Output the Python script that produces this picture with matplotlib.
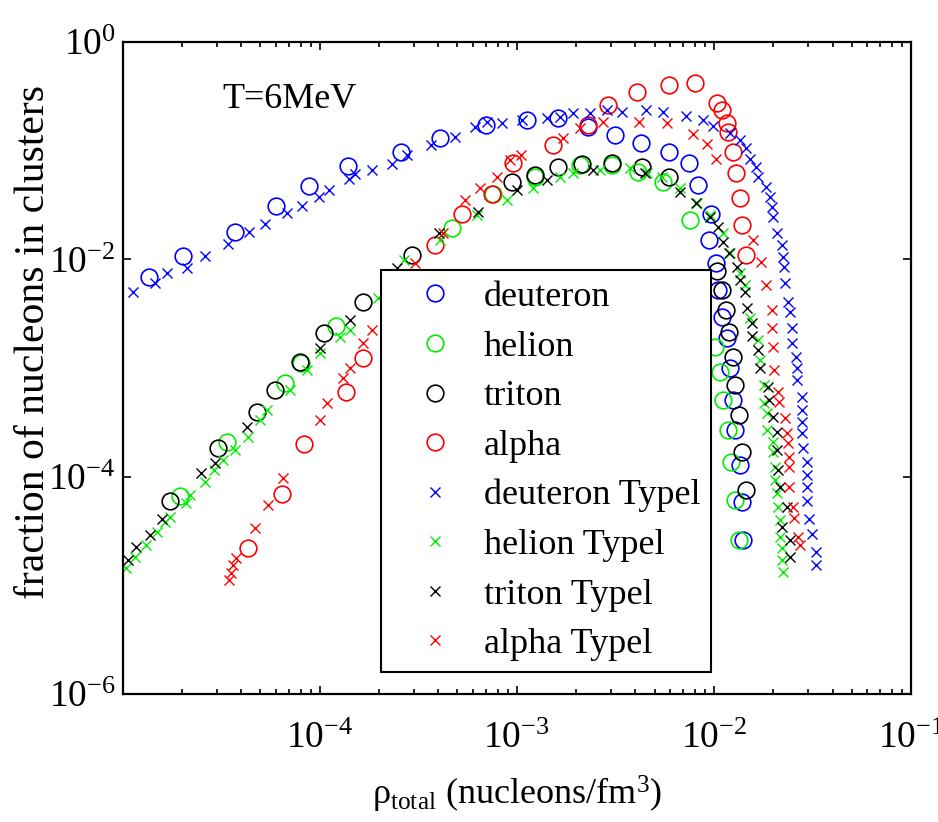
import matplotlib
matplotlib.use("Agg")
import matplotlib.pyplot as plt
from matplotlib.ticker import FixedLocator, NullLocator, LogLocator, FixedFormatter

plt.rcParams['font.family'] = ['Liberation Serif', 'DejaVu Serif']
plt.rcParams['mathtext.fontset'] = 'custom'
plt.rcParams['mathtext.rm'] = 'Liberation Serif'
plt.rcParams['mathtext.it'] = 'Liberation Serif:italic'
plt.rcParams['mathtext.bf'] = 'Liberation Serif:bold'

# ---- data ----
deut_x = [1.36e-5, 2.02e-5, 3.71e-5, 6.0e-5, 8.83e-5, 1.39e-4, 2.58e-4, 4.07e-4, 6.98e-4,
          1.13e-3, 1.62e-3, 2.30e-3, 3.15e-3, 4.27e-3, 5.92e-3, 7.48e-3, 8.30e-3, 9.66e-3,
          9.44e-3, 1.03e-2, 1.05e-2, 1.10e-2, 1.16e-2, 1.21e-2, 1.25e-2, 1.28e-2, 1.36e-2,
          1.39e-2, 1.41e-2]
deut_y = [6.87e-3, 1.07e-2, 1.78e-2, 3.10e-2, 4.73e-2, 7.23e-2, 9.73e-2, 0.131, 0.172,
          0.191, 0.200, 0.165, 0.139, 0.117, 0.0973, 0.0769, 0.0483, 0.0261,
          0.0151, 9.25e-3, 5.23e-3, 2.94e-3, 1.89e-3, 1.0e-3, 5.07e-4, 2.68e-4, 1.28e-4,
          5.85e-5, 2.61e-5]

hel_x = [1.95e-5, 3.39e-5, 6.67e-5, 8.04e-5, 1.21e-4, 2.33e-4, 4.69e-4, 7.57e-4, 1.24e-3,
         2.09e-3, 3.04e-3, 4.12e-3, 5.52e-3, 7.53e-3, 1.01e-2, 1.07e-2, 1.11e-2, 1.18e-2,
         1.22e-2, 1.28e-2, 1.34e-2]
hel_y = [6.64e-5, 2.08e-4, 7.28e-4, 1.11e-3, 2.43e-3, 5.81e-3, 1.94e-2, 3.99e-2, 5.71e-2,
         7.38e-2, 7.38e-2, 6.37e-2, 5.14e-2, 2.30e-2, 1.56e-3, 9.18e-4, 5.07e-4, 2.68e-4,
         1.36e-4, 6.09e-5, 2.61e-5]

trit_x = [1.74e-5, 3.05e-5, 4.81e-5, 5.93e-5, 7.94e-5, 1.05e-4, 1.66e-4, 2.94e-4, 9.46e-4,
          1.24e-3, 1.62e-3, 2.14e-3, 3.04e-3, 4.31e-3, 5.92e-3, 1.04e-2, 1.10e-2, 1.15e-2,
          1.19e-2, 1.25e-2, 1.28e-2, 1.34e-2, 1.39e-2, 1.46e-2]
trit_y = [5.97e-5, 1.84e-4, 3.94e-4, 6.27e-4, 1.14e-3, 2.10e-3, 4.04e-3, 1.10e-2, 5.14e-2,
          5.97e-2, 7.08e-2, 7.53e-2, 7.69e-2, 7.08e-2, 5.71e-2, 7.81e-3, 5.23e-3, 3.42e-3,
          2.14e-3, 1.26e-3, 6.97e-4, 3.69e-4, 1.69e-4, 7.53e-5]

alph_x = [4.32e-5, 6.44e-5, 8.32e-5, 1.36e-4, 1.66e-4, 2.49e-4, 3.85e-4, 5.27e-4, 7.48e-4,
          9.58e-4, 1.53e-3, 2.30e-3, 2.90e-3, 4.07e-3, 5.92e-3, 8.02e-3, 1.04e-2, 1.10e-2,
          1.16e-2, 1.18e-2, 1.25e-2, 1.29e-2, 1.36e-2, 1.39e-2, 1.46e-2]
alph_y = [2.21e-5, 6.92e-5, 2.0e-4, 6.01e-4, 1.24e-3, 4.04e-3, 1.36e-2, 2.61e-2, 3.99e-2,
          7.69e-2, 0.113, 0.172, 0.263, 0.347, 0.402, 0.420, 0.274, 0.237,
          0.179, 0.149, 0.0973, 0.0622, 0.0366, 0.0207, 0.0110]

deutT_x = [1.13e-5, 1.46e-5, 1.68e-5, 2.12e-5, 2.62e-5, 3.43e-5, 4.37e-5, 5.27e-5, 6.82e-5,
           8.13e-5, 9.91e-5, 1.11e-4, 1.41e-4, 1.51e-4, 1.84e-4, 2.33e-4, 2.77e-4, 3.67e-4,
           4.85e-4, 6.14e-4, 7.06e-4, 8.42e-4, 1.06e-3, 1.42e-3, 1.66e-3, 1.93e-3, 2.35e-3,
           2.87e-3, 3.42e-3, 4.53e-3, 5.52e-3, 7.23e-3, 8.81e-3, 9.89e-3, 1.21e-2, 1.36e-2,
           1.46e-2, 1.52e-2, 1.64e-2, 1.67e-2, 1.84e-2, 1.93e-2, 1.97e-2, 2.0e-2, 2.09e-2,
           2.21e-2, 2.24e-2, 2.27e-2, 2.30e-2, 2.38e-2, 2.43e-2, 2.49e-2, 2.49e-2, 2.61e-2,
           2.64e-2, 2.64e-2, 2.80e-2, 2.80e-2, 2.80e-2, 2.80e-2, 2.83e-2, 2.96e-2, 2.96e-2,
           2.96e-2, 2.96e-2, 3.03e-2, 3.15e-2, 3.30e-2, 3.30e-2]
deutT_y = [5.0e-3, 6.05e-3, 7.48e-3, 8.32e-3, 1.07e-2, 1.38e-2, 1.78e-2, 2.11e-2, 2.67e-2,
           3.10e-2, 3.74e-2, 4.35e-2, 5.48e-2, 6.10e-2, 6.64e-2, 7.53e-2, 9.12e-2, 0.113,
           0.134, 0.165, 0.184, 0.179, 0.191, 0.200, 0.204, 0.222, 0.222,
           0.237, 0.227, 0.237, 0.227, 0.208, 0.191, 0.169, 0.145, 0.125,
           0.106, 0.0838, 0.0708, 0.0571, 0.0464, 0.0374, 0.0303, 0.0245, 0.0175,
           0.0136, 0.0105, 8.49e-3, 6.05e-3, 4.04e-3, 3.27e-3, 2.33e-3, 1.70e-3, 1.26e-3,
           1.0e-3, 7.74e-4, 5.41e-4, 4.10e-4, 3.18e-4, 2.52e-4, 1.84e-4, 1.36e-4, 1.04e-4,
           8.04e-5, 5.97e-5, 4.07e-5, 2.96e-5, 2.03e-5, 1.54e-5]

helT_x = [1.04e-5, 1.16e-5, 1.32e-5, 1.50e-5, 1.64e-5, 1.74e-5, 2.10e-5, 2.20e-5, 2.62e-5,
          2.91e-5, 3.23e-5, 3.71e-5, 4.32e-5, 4.98e-5, 5.41e-5, 7.06e-5, 8.63e-5, 1.0e-4,
          1.27e-4, 1.43e-4, 1.98e-4, 2.68e-4, 4.07e-4, 6.28e-4, 8.91e-4, 1.21e-3, 1.66e-3,
          1.93e-3, 2.64e-3, 3.75e-3, 4.58e-3, 5.43e-3, 6.73e-3, 8.20e-3, 9.55e-3, 1.11e-2,
          1.21e-2, 1.36e-2, 1.44e-2, 1.52e-2, 1.67e-2, 1.71e-2, 1.80e-2, 1.80e-2, 1.86e-2,
          1.86e-2, 2.0e-2, 2.0e-2, 2.04e-2, 2.04e-2, 2.09e-2, 2.11e-2, 2.16e-2, 2.16e-2,
          2.21e-2, 2.21e-2, 2.24e-2]
helT_y = [1.44e-5, 1.82e-5, 2.35e-5, 3.10e-5, 3.83e-5, 4.26e-5, 5.72e-5, 6.78e-5, 8.93e-5,
          1.15e-4, 1.42e-4, 1.76e-4, 2.32e-4, 3.32e-4, 4.10e-4, 6.27e-4, 9.57e-4, 1.37e-3,
          1.93e-3, 2.24e-3, 4.40e-3, 9.86e-3, 1.51e-2, 2.56e-2, 3.52e-2, 4.53e-2, 5.71e-2,
          6.22e-2, 6.64e-2, 6.92e-2, 6.22e-2, 5.71e-2, 4.53e-2, 3.30e-2, 2.56e-2, 1.75e-2,
          1.14e-2, 7.48e-3, 5.81e-3, 2.88e-3, 1.81e-3, 1.19e-3, 6.97e-4, 4.77e-4, 3.85e-4,
          2.68e-4, 2.08e-4, 1.69e-4, 1.23e-4, 9.31e-5, 7.08e-5, 5.26e-5, 3.99e-5, 2.79e-5,
          2.21e-5, 1.71e-5, 1.33e-5]

tritT_x = [1.06e-5, 1.17e-5, 1.38e-5, 1.58e-5, 2.50e-5, 2.94e-5, 4.28e-5, 1.0e-4, 1.43e-4,
           2.47e-4, 4.03e-4, 6.35e-4, 1.0e-3, 1.42e-3, 2.44e-3, 4.47e-3, 6.73e-3, 8.11e-3,
           9.55e-3, 1.05e-2, 1.11e-2, 1.19e-2, 1.31e-2, 1.36e-2, 1.44e-2, 1.47e-2, 1.56e-2,
           1.56e-2, 1.67e-2, 1.71e-2, 1.88e-2, 1.90e-2, 2.0e-2, 2.09e-2, 2.09e-2, 2.11e-2,
           2.16e-2, 2.35e-2, 2.21e-2, 2.43e-2, 2.43e-2]
tritT_y = [1.71e-5, 2.25e-5, 2.90e-5, 4.07e-5, 1.08e-4, 1.34e-4, 2.86e-4, 1.53e-3, 2.77e-3,
           8.32e-3, 1.75e-2, 2.72e-2, 4.35e-2, 5.37e-2, 6.64e-2, 6.22e-2, 4.17e-2, 3.30e-2,
           2.45e-2, 1.98e-2, 1.44e-2, 1.14e-2, 8.49e-3, 6.46e-3, 5.0e-3, 3.56e-3, 2.59e-3,
           1.97e-3, 1.47e-3, 1.0e-3, 6.68e-4, 5.07e-4, 3.54e-4, 2.58e-4, 1.76e-4, 1.15e-4,
           8.04e-5, 5.26e-5, 3.44e-5, 2.61e-5, 1.82e-5]

alphT_x = [3.47e-5, 3.55e-5, 3.63e-5, 3.76e-5, 4.70e-5, 5.47e-5, 6.52e-5, 1.0e-4, 1.09e-4,
           1.31e-4, 1.43e-4, 1.66e-4, 1.84e-4, 2.28e-4, 3.05e-4, 4.23e-4, 5.46e-4, 6.50e-4,
           7.94e-4, 9.23e-4, 1.05e-3, 1.71e-3, 2.09e-3, 2.73e-3, 4.17e-3, 5.76e-3, 7.80e-3,
           9.18e-3, 1.03e-2, 1.58e-2, 1.73e-2, 1.84e-2, 1.97e-2, 1.97e-2, 2.0e-2, 2.02e-2,
           2.11e-2, 2.14e-2, 2.30e-2, 2.35e-2, 2.38e-2, 2.40e-2, 2.40e-2, 2.40e-2, 2.52e-2,
           2.55e-2, 2.67e-2, 2.74e-2]
alphT_y = [1.12e-5, 1.30e-5, 1.54e-5, 1.78e-5, 3.37e-5, 5.48e-5, 9.73e-5, 3.32e-4, 4.77e-4,
           8.09e-4, 1.0e-3, 1.70e-3, 2.24e-3, 4.04e-3, 9.25e-3, 1.75e-2, 3.52e-2, 4.53e-2,
           5.71e-2, 8.20e-2, 9.12e-2, 0.131, 0.162, 0.184, 0.184, 0.179, 0.142,
           0.115, 0.0838, 0.0151, 9.44e-3, 5.81e-3, 3.42e-3, 2.33e-3, 1.56e-3, 9.57e-4,
           6.01e-4, 4.86e-4, 3.47e-4, 2.52e-4, 2.04e-4, 1.52e-4, 1.23e-4, 8.04e-5, 5.26e-5,
           4.17e-5, 2.79e-5, 2.35e-5]

labels = ['deuteron', 'helion', 'triton', 'alpha',
          'deuteron Typel', 'helion Typel', 'triton Typel', 'alpha Typel']
colors = ['#0000ff', '#00ee00', '#000000', '#ff0000']
xtick_vals = [1e-5, 1e-4, 1e-3, 1e-2, 1e-1]
xtick_labels = ['', r'$10^{-4}$', r'$10^{-3}$', r'$10^{-2}$', r'$10^{-1}$']
ytick_vals = [1e-6, 1e-4, 1e-2, 1e0]
ytick_labels = [r'$10^{-6}$', r'$10^{-4}$', r'$10^{-2}$', r'$10^{0}$']

fig = plt.figure(figsize=(9.38, 8.22), dpi=100)
ax = fig.add_axes([0.1307, 0.1557, 0.8405, 0.7932])

circ = [(deut_x, deut_y), (hel_x, hel_y), (trit_x, trit_y), (alph_x, alph_y)]
crs = [(deutT_x, deutT_y), (helT_x, helT_y), (tritT_x, tritT_y), (alphT_x, alphT_y)]
for (xs, ys), c, lab in zip(circ, colors, labels[:4]):
    ax.plot(xs, ys, ls='none', marker='o', ms=12, mfc='none', mec=c, mew=1.2, label=lab)
for (xs, ys), c, lab in zip(crs, colors, labels[4:]):
    ax.plot(xs, ys, ls='none', marker='x', ms=7.5, mec=c, mew=1.0, label=lab)

ax.set_xscale('log')
ax.set_yscale('log')
ax.set_xlim(1e-5, 1e-1)
ax.set_ylim(1e-6, 1e0)
ax.xaxis.set_major_locator(FixedLocator(xtick_vals))
ax.xaxis.set_major_formatter(FixedFormatter(xtick_labels))
ax.xaxis.set_minor_locator(LogLocator(base=10, subs=range(2, 10)))
ax.xaxis.set_minor_formatter(FixedFormatter([]))
ax.yaxis.set_major_locator(FixedLocator(ytick_vals))
ax.yaxis.set_major_formatter(FixedFormatter(ytick_labels))
ax.yaxis.set_minor_locator(NullLocator())
ax.tick_params(which='both', direction='in', top=True, right=True, width=1.2)
ax.tick_params(which='major', length=6, labelsize=27)
ax.tick_params(axis='x', which='major', pad=20)
ax.tick_params(axis='y', which='major', pad=5)
ax.tick_params(which='minor', length=3.5)
for s in ax.spines.values():
    s.set_linewidth(1.6)

ax.set_xlabel('ρ$_{\\mathrm{total}}$ (nucleons/fm$^3$)', fontsize=26, labelpad=13)
ax.set_ylabel('fraction of nucleons in clusters', fontsize=30)
ax.yaxis.set_label_coords(-0.088, 0.54)
ax.text(0.126, 0.899, 'T=6MeV', transform=ax.transAxes, fontsize=26, va='baseline', ha='left')

leg = ax.legend(loc='upper left', bbox_to_anchor=(381/938, 1-270/822),
                bbox_transform=fig.transFigure, fontsize=26, frameon=True, fancybox=False,
                framealpha=1, edgecolor='black', borderpad=0.3, labelspacing=0.45,
                handlelength=2.4, handletextpad=0.15, borderaxespad=0)
leg.get_frame().set_linewidth(1.5)
leg.set_zorder(10)

fig.savefig('out.png', dpi=100)
